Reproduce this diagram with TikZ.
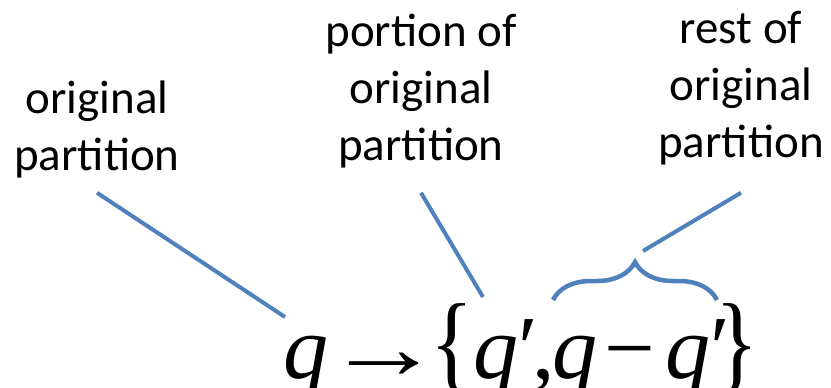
\documentclass[tikz,border=0pt]{standalone}
\usepackage{fontspec}
\setmainfont{Carlito}
\newfontfamily\eqfont{Liberation Serif}
\usetikzlibrary{decorations.pathreplacing}
\definecolor{partblue}{HTML}{4F81BD}
\newcommand{\tallbrace}[1]{\scalebox{1}[1.2]{#1}}
\newcommand{\qv}{\textit{q}}

\begin{document}
\begin{tikzpicture}[
    x=1pt, y=-1pt,
    lbl/.style={align=center, inner xsep=0pt, anchor=base, font=\fontsize{47}{57}\selectfont},
    eq/.style={inner sep=0pt, anchor=base west, font=\eqfont\fontsize{90}{90}\selectfont},
    link/.style={draw=partblue, line width=4pt},
    grp/.style={draw=partblue, line width=4.5pt, decorate, decoration={brace, amplitude=38pt}}
]
\useasboundingbox (0,0) rectangle (831,388);

\node[eq] (rule) at (283,378) {\qv\kern-3pt\scalebox{1.3}[1]{→}\kern-12pt\tallbrace{\{}\qv′\kern-6pt,\kern-2pt\qv\kern7pt−\kern10pt\qv′\kern-15pt\tallbrace{\}}};

\node[lbl, inner ysep=15pt] (orig) at (97,170) {original\\partition};
\node[lbl, inner ysep=25pt] (part) at (421,160) {portion of\\original\\partition};
\node[lbl, inner ysep=28pt] (rest) at (741,157) {rest of\\original\\partition};

\coordinate (qa) at (285,317);
\coordinate (qb) at (483,297);
\coordinate (tip) at (643,251);
\coordinate (bl) at (553,300);
\coordinate (br) at (717,300);

\draw[grp] (bl) -- (br);

\draw[link] (orig.south) -- (qa);
\draw[link] (part.south) -- (qb);
\draw[link] (rest.south) -- (tip);

\end{tikzpicture}
\end{document}
